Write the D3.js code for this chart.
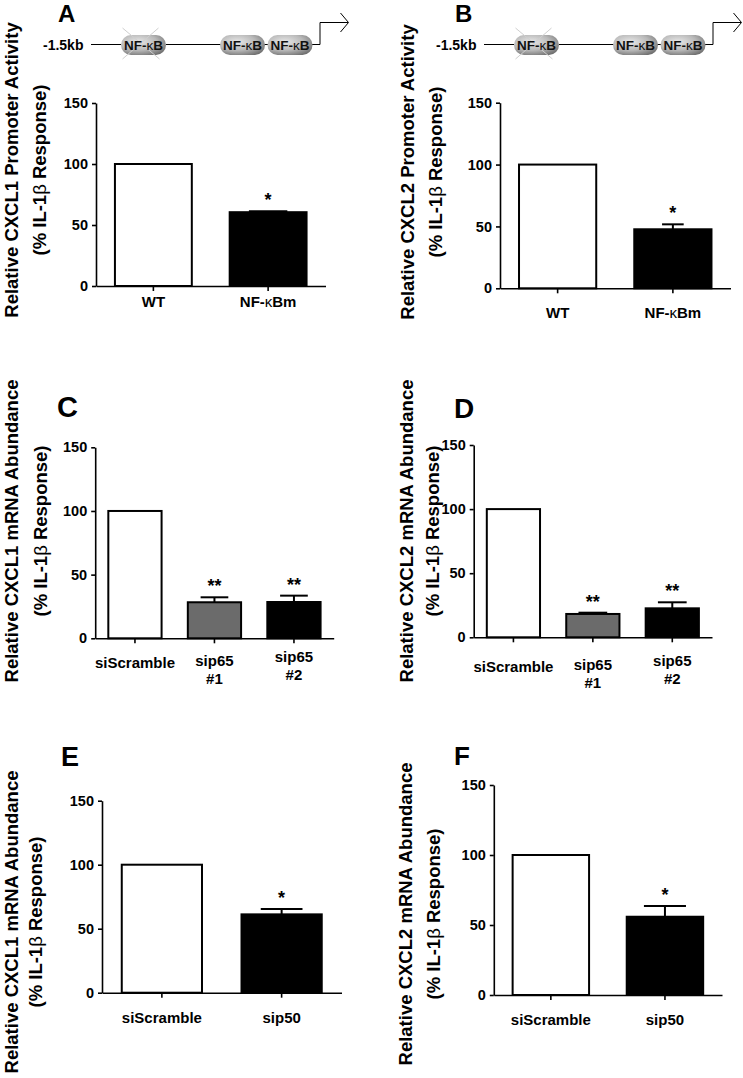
<!DOCTYPE html>
<html>
<head>
<meta charset="utf-8">
<script src="https://cdn.jsdelivr.net/npm/d3@7"></script>
<style>
  html, body { margin: 0; padding: 0; background: #fff; }
  svg { display: block; }
</style>
</head>
<body>
<div id="chart"></div>
<script>
// ---------------- DATA ----------------
const yTicks = [0, 50, 100, 150];
const yDomain = [0, 150];

const catsA = ["WT", "NF-κBm"];
const valsA = [100, 60.5];
const errsA = [0, 0.8];
const starsA = ["", "*"];

const catsB = ["WT", "NF-κBm"];
const valsB = [100, 47.7];
const errsB = [0, 4.0];
const starsB = ["", "*"];

const catsC = ["siScramble", "sip65\n#1", "sip65\n#2"];
const valsC = [100, 28.3, 28.5];
const errsC = [0, 3.9, 5.0];
const starsC = ["", "**", "**"];

const catsD = ["siScramble", "sip65\n#1", "sip65\n#2"];
const valsD = [100, 18.2, 22.6];
const errsD = [0, 1.0, 4.7];
const starsD = ["", "**", "**"];

const catsE = ["siScramble", "sip50"];
const valsE = [100, 61.2];
const errsE = [0, 4.2];
const starsE = ["", "*"];

const catsF = ["siScramble", "sip50"];
const valsF = [100, 55.9];
const errsF = [0, 7.7];
const starsF = ["", "*"];

const letters = ["A", "B", "C", "D", "E", "F"];
const titles1 = [
  "Relative CXCL1 Promoter Activity",
  "Relative CXCL2 Promoter Activity",
  "Relative CXCL1 mRNA Abundance",
  "Relative CXCL2 mRNA Abundance",
  "Relative CXCL1 mRNA Abundance",
  "Relative CXCL2 mRNA Abundance"
];
const title2 = "(% IL-1β Response)";
const promoterStart = "-1.5kb";
const siteLabel = "NF-κB";

// ---------------- STYLE / LAYOUT ----------------
const FONT = "'Liberation Sans', Arial, Helvetica, sans-serif";
const fills2 = ["#ffffff", "#000000"];
const fills3 = ["#ffffff", "#6b6b6b", "#000000"];

const panels = [
  {cats: catsA, vals: valsA, errs: errsA, stars: starsA, fills: fills2,
   left: 96, right: 325.5, top: 103, bottom: 286, cap: 0.5, labOff: 21,
   letter: {x: 58, y: 22, size: 24}, title: {x1: 18, x2: 46, cy: 170}},
  {cats: catsB, vals: valsB, errs: errsB, stars: starsB, fills: fills2,
   left: 500, right: 730.5, top: 102.7, bottom: 288.3, cap: 0.28, labOff: 30,
   letter: {x: 455, y: 22, size: 24}, title: {x1: 414, x2: 442, cy: 172}},
  {cats: catsC, vals: valsC, errs: errsC, stars: starsC, fills: fills3,
   left: 95.2, right: 333.7, top: 447.3, bottom: 638.3, cap: 0.52, labOff: 30,
   letter: {x: 57, y: 417, size: 29}, title: {x1: 18, x2: 47, cy: 531}},
  {cats: catsD, vals: valsD, errs: errsD, stars: starsD, fills: fills3,
   left: 473.7, right: 712, top: 445, bottom: 637.3, cap: 0.54, labOff: 35,
   letter: {x: 454, y: 418, size: 28}, title: {x1: 413, x2: 439, cy: 531}},
  {cats: catsE, vals: valsE, errs: errsE, stars: starsE, fills: fills2,
   left: 102, right: 341.5, top: 800.7, bottom: 992.7, cap: 0.52, labOff: 30,
   letter: {x: 61, y: 766, size: 27}, title: {x1: 18, x2: 42, cy: 922}},
  {cats: catsF, vals: valsF, errs: errsF, stars: starsF, fills: fills2,
   left: 493.8, right: 722, top: 785, bottom: 995, cap: 0.55, labOff: 30,
   letter: {x: 454, y: 765, size: 26}, title: {x1: 412, x2: 440, cy: 914}}
];

const svg = d3.select("#chart").append("svg")
  .attr("width", 743).attr("height", 1078)
  .style("font-family", FONT);

const defs = svg.append("defs");
const grad = defs.append("radialGradient").attr("id", "pill")
  .attr("cx", "38%").attr("cy", "35%").attr("r", "75%");
grad.append("stop").attr("offset", "0%").attr("stop-color", "#e8e8e8");
grad.append("stop").attr("offset", "55%").attr("stop-color", "#b9b9b9");
grad.append("stop").attr("offset", "100%").attr("stop-color", "#6e6e6e");

function richText(sel, str) {
  const parts = str.split(/([κβ])/);
  parts.forEach(p => {
    if (!p) return;
    const ts = sel.append("tspan").text(p);
    if (p === "κ" || p === "β") ts.attr("font-weight", "normal");
  });
}

// ---------------- PROMOTER DIAGRAMS ----------------
function promoter(dx) {
  const g = svg.append("g").attr("transform", `translate(${dx},0)`);
  const ly = 44.5;
  g.append("text").attr("x", 43).attr("y", 50).attr("font-size", 14).attr("font-weight", "bold")
    .text(promoterStart);
  g.append("line").attr("x1", 91).attr("x2", 121).attr("y1", ly).attr("y2", ly).attr("stroke", "#000").attr("stroke-width", 1);
  g.append("line").attr("x1", 166).attr("x2", 313).attr("y1", ly).attr("y2", ly).attr("stroke", "#000").attr("stroke-width", 1);
  g.append("path").attr("d", `M313,${ly} H320 V22.5 H348`).attr("fill", "none").attr("stroke", "#000").attr("stroke-width", 1);
  g.append("path").attr("d", "M340.5,13 L348.5,22.5 L340.5,32").attr("fill", "none").attr("stroke", "#000").attr("stroke-width", 1);
  const centers = [143.5, 242.5, 290];
  centers.forEach((cx, i) => {
    g.append("rect").attr("x", cx - 22.5).attr("y", 35).attr("width", 45).attr("height", 20)
      .attr("rx", 10).attr("ry", 10).attr("fill", "url(#pill)");
    if (i === 0) {
      g.append("line").attr("x1", cx - 21).attr("y1", 28).attr("x2", cx + 16).attr("y2", 59)
        .attr("stroke", "#cfcfcf").attr("stroke-width", 1);
      g.append("line").attr("x1", cx + 15).attr("y1", 28).attr("x2", cx - 21).attr("y2", 59)
        .attr("stroke", "#cfcfcf").attr("stroke-width", 1);
    }
    const t = g.append("text").attr("x", cx).attr("y", 50).attr("text-anchor", "middle")
      .attr("font-size", 13.5).attr("font-weight", "bold").attr("fill", "#111");
    richText(t, siteLabel);
  });
}
promoter(0);
promoter(393);

// ---------------- BAR PANELS ----------------
panels.forEach((p, pi) => {
  const g = svg.append("g");
  const x = d3.scaleBand().domain(p.cats).range([p.left, p.right])
    .paddingInner(0.33).paddingOuter(0.165);
  const y = d3.scaleLinear().domain(yDomain).range([p.bottom, p.top]);

  g.selectAll("rect.bar").data(p.cats).enter().append("rect")
    .attr("x", d => x(d)).attr("width", x.bandwidth())
    .attr("y", (d, i) => y(p.vals[i]))
    .attr("height", (d, i) => y(0) - y(p.vals[i]))
    .attr("fill", (d, i) => p.fills[i])
    .attr("stroke", "#000").attr("stroke-width", 2);

  p.cats.forEach((c, i) => {
    if (!p.errs[i]) return;
    const cx = x(c) + x.bandwidth() / 2;
    const hw = x.bandwidth() * p.cap / 2;
    g.append("line").attr("x1", cx).attr("x2", cx)
      .attr("y1", y(p.vals[i])).attr("y2", y(p.vals[i] + p.errs[i]))
      .attr("stroke", "#000").attr("stroke-width", 2);
    g.append("line").attr("x1", cx - hw).attr("x2", cx + hw)
      .attr("y1", y(p.vals[i] + p.errs[i])).attr("y2", y(p.vals[i] + p.errs[i]))
      .attr("stroke", "#000").attr("stroke-width", 2);
  });

  p.cats.forEach((c, i) => {
    if (!p.stars[i]) return;
    g.append("text").attr("x", x(c) + x.bandwidth() / 2)
      .attr("y", y(p.vals[i] + p.errs[i]) - 5)
      .attr("text-anchor", "middle").attr("font-size", 18).attr("font-weight", "bold")
      .text(p.stars[i]);
  });

  const ya = g.append("g").attr("transform", `translate(${p.left},0)`)
    .call(d3.axisLeft(y).tickValues(yTicks).tickSize(4).tickSizeOuter(0).tickPadding(4));
  ya.select(".domain").attr("stroke-width", 1.6);
  ya.selectAll(".tick line").attr("stroke-width", 1.6);
  ya.selectAll(".tick text").attr("font-size", 14.5).attr("font-weight", "bold")
    .attr("font-family", FONT).attr("fill", "#000");

  const xa = g.append("g").attr("transform", `translate(0,${p.bottom})`)
    .call(d3.axisBottom(x).tickSize(5).tickSizeOuter(0));
  xa.select(".domain").attr("stroke-width", 1.6);
  xa.selectAll(".tick line").attr("stroke-width", 1.6);
  xa.selectAll(".tick text").each(function(d, i) {
    const t = d3.select(this);
    t.text(null).attr("dy", null).attr("y", p.labOff)
      .attr("font-size", 15).attr("font-weight", "bold").attr("font-family", FONT).attr("fill", "#000");
    const lines = d.split("\n");
    if (lines.length === 1) {
      richText(t, d);
    } else {
      const shift = (i === p.cats.length - 1) ? -4 : 0;
      lines.forEach((ln, k) => {
        t.append("tspan").attr("x", 0).attr("y", p.labOff - 2 + shift + k * 18).text(ln);
      });
    }
  });

  svg.append("text").attr("x", p.letter.x).attr("y", p.letter.y)
    .attr("font-size", p.letter.size).attr("font-weight", "bold").text(letters[pi]);

  const t1 = svg.append("text").attr("transform", `translate(${p.title.x1},${p.title.cy}) rotate(-90)`)
    .attr("text-anchor", "middle").attr("font-size", 18.5).attr("font-weight", "bold");
  richText(t1, titles1[pi]);
  const t2 = svg.append("text").attr("transform", `translate(${p.title.x2},${p.title.cy}) rotate(-90)`)
    .attr("text-anchor", "middle").attr("font-size", 18.5).attr("font-weight", "bold");
  richText(t2, title2);
});
</script>
</body>
</html>
